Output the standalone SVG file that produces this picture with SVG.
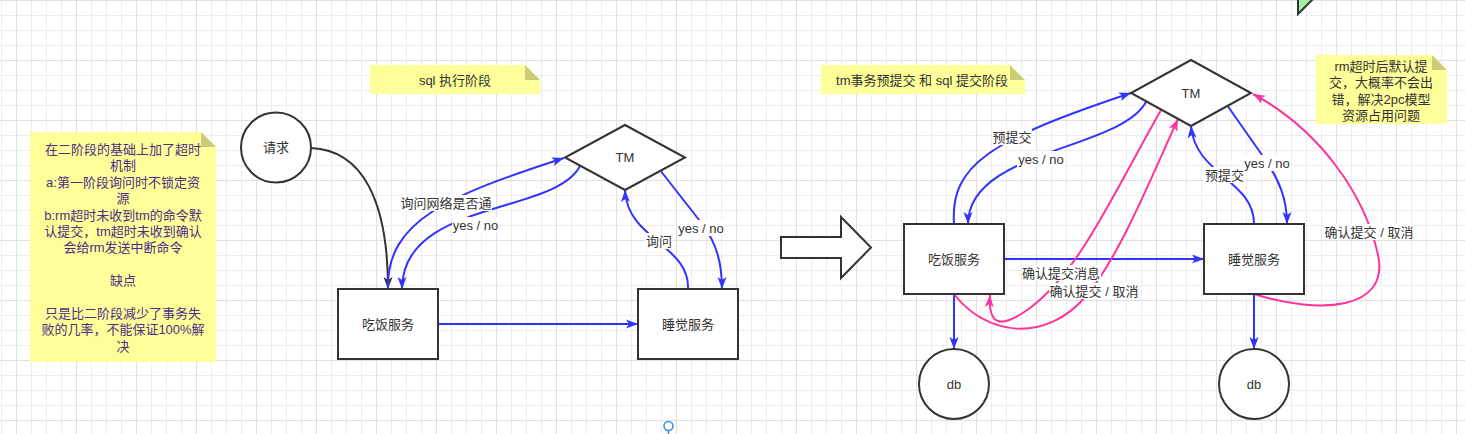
<svg xmlns="http://www.w3.org/2000/svg" width="1465" height="434" viewBox="0 0 1465 434">
<style>
text{font-family:"Liberation Sans","Noto Sans CJK SC",sans-serif;font-size:13px;fill:#333;text-anchor:middle;dominant-baseline:central}
.node{fill:#fff;stroke:#333;stroke-width:2}
.note{fill:#ffff99;stroke:none}
.fold{fill:#cccc77;stroke:none}
.b{fill:none;stroke:#3333ff;stroke-width:2;marker-end:url(#mb)}
.p{fill:none;stroke:#ff3399;stroke-width:2;marker-end:url(#mp)}
.k{fill:none;stroke:#333;stroke-width:2;marker-end:url(#mk)}
.lb{fill:#fff}
.purple{fill:#4d2d86}
</style>
<defs>
<pattern id="grid" patternUnits="userSpaceOnUse" x="16" y="0" width="60" height="60">
<path d="M15.5,0V60M30.5,0V60M45.5,0V60M0,15.5H60M0,30.5H60M0,45.5H60" stroke="#ededed" stroke-width="1"/>
<path d="M0.5,0V60M0,0.5H60" stroke="#e0e0e0" stroke-width="1"/>
</pattern>
<marker id="mb" viewBox="0 0 12 10" refX="12" refY="5" markerWidth="12" markerHeight="10" markerUnits="userSpaceOnUse" orient="auto"><path d="M0,0.5L12,5L0,9.5L3,5Z" fill="#3333ff"/></marker>
<marker id="mp" viewBox="0 0 12 10" refX="12" refY="5" markerWidth="12" markerHeight="10" markerUnits="userSpaceOnUse" orient="auto"><path d="M0,0.5L12,5L0,9.5L3,5Z" fill="#ff3399"/></marker>
<marker id="mk" viewBox="0 0 12 10" refX="12" refY="5" markerWidth="12" markerHeight="10" markerUnits="userSpaceOnUse" orient="auto"><path d="M0,0.5L12,5L0,9.5L3,5Z" fill="#333"/></marker>
</defs>
<rect width="1465" height="434" fill="#fff"/>
<rect width="1465" height="434" fill="url(#grid)"/>

<g id="note-left">
<path class="note" d="M30,132H201L216,147V362H30Z"/>
<path class="fold" d="M201,132L216,147H201Z"/>
<text class="purple" x="123" y="149.5">在二阶段的基础上加了超时</text>
<text class="purple" x="123" y="165.9">机制</text>
<text class="purple" x="123" y="182.3">a:第一阶段询问时不锁定资</text>
<text class="purple" x="123" y="198.7">源</text>
<text class="purple" x="123" y="215.1">b:rm超时未收到tm的命令默</text>
<text class="purple" x="123" y="231.5">认提交，tm超时未收到确认</text>
<text class="purple" x="123" y="247.9">会给rm发送中断命令</text>
<text class="purple" x="123" y="280.7">缺点</text>
<text class="purple" x="123" y="313.5">只是比二阶段减少了事务失</text>
<text class="purple" x="123" y="329.9">败的几率，不能保证100%解</text>
<text class="purple" x="123" y="346.3">决</text>
</g>

<g id="note-sql">
<path class="note" d="M370,65H525L540,80V94H370Z"/>
<path class="fold" d="M525,65L540,80H525Z"/>
<text x="455" y="80">sql 执行阶段</text>
</g>

<g id="note-tm">
<path class="note" d="M821,65H1010L1025,80V94H821Z"/>
<path class="fold" d="M1010,65L1025,80H1010Z"/>
<text x="922" y="80">tm事务预提交 和 sql 提交阶段</text>
</g>

<g id="note-rm">
<path class="note" d="M1316,55H1432L1447,70V124H1316Z"/>
<path class="fold" d="M1432,55L1447,70H1432Z"/>
<text x="1381" y="66">rm超时后默认提</text>
<text x="1381" y="82.5">交，大概率不会出</text>
<text x="1381" y="99">错，解决2pc模型</text>
<text x="1381" y="115.5">资源占用问题</text>
</g>

<g id="green-shape">
<polygon points="1298,-6 1298,14 1318,-6" fill="#a6eea6" stroke="#333" stroke-width="2"/>
</g>

<g id="pin">
<circle cx="668.5" cy="426" r="4.5" fill="none" stroke="#3d8fe6" stroke-width="1.6"/>
<path d="M668.5,430.5V434" stroke="#3d8fe6" stroke-width="1.6"/>
</g>

<g id="big-arrow">
<path d="M781,237H841V217L871,247.5L841,278V258H781Z" fill="#fff" stroke="#333" stroke-width="2"/>
</g>

<g id="connectors">
<path class="k" d="M311,148C362,150 388,200 388,289"/>
<path class="b" d="M388,289C386,220 450,195 564,158"/>
<path class="b" d="M580,166C555,215 402,200 402,289"/>
<path class="b" d="M438,324H638"/>
<path class="b" d="M688,289C690,245 627,240 625,190"/>
<path class="b" d="M660,170L703,225C716,243 722,262 722,289"/>

<path class="b" d="M954,224C950,165 990,140 1131,93"/>
<path class="b" d="M1146,102C1120,150 968,150 968,224"/>
<path class="b" d="M1004,259H1204"/>
<path class="b" d="M1254,224C1254,180 1195,175 1191,126"/>
<path class="b" d="M1227,105L1262,155C1280,180 1287,200 1287,224"/>
<path class="b" d="M954,294V349"/>
<path class="b" d="M1254,294V349"/>
<path class="p" d="M1161,110C1110,200 1080,270 1030,308C1000,330 988,325 990,295"/>
<path class="p" d="M954,294C985,335 1045,345 1087,295C1120,255 1150,180 1178,119"/>
<path class="p" d="M1254,294C1320,315 1390,310 1378,255C1365,195 1320,130 1253,94"/>

<g id="edge-labels">
<rect class="lb" x="400" y="195" width="92" height="16"/>
<text x="446" y="203">询问网络是否通</text>
<rect class="lb" x="452" y="217" width="47" height="16"/>
<text x="475.5" y="225">yes / no</text>
<rect class="lb" x="645" y="233" width="28" height="16"/>
<text x="659" y="241">询问</text>
<rect class="lb" x="677" y="220" width="48" height="16"/>
<text x="701" y="228">yes / no</text>

<rect class="lb" x="992" y="129" width="40" height="16"/>
<text x="1012" y="137">预提交</text>
<rect class="lb" x="1017" y="151" width="48" height="16"/>
<text x="1041" y="159">yes / no</text>
<rect class="lb" x="1204" y="167" width="41" height="16"/>
<text x="1224.5" y="175">预提交</text>
<rect class="lb" x="1243" y="155" width="48" height="16"/>
<text x="1267" y="163">yes / no</text>
<rect class="lb" x="1022" y="265" width="79" height="16"/>
<text x="1061" y="273">确认提交消息</text>
<rect class="lb" x="1049" y="283" width="91" height="16"/>
<text x="1094" y="291">确认提交 / 取消</text>
<rect class="lb" x="1324" y="224" width="91" height="16"/>
<text x="1369" y="232">确认提交 / 取消</text>
</g>
</g>

<g id="req">
<circle class="node" cx="276" cy="147.5" r="35"/>
<text x="276" y="147.5">请求</text>
</g>
<g id="tm-left">
<polygon class="node" points="625,125 685,157.5 625,190 565,157.5"/>
<text x="625" y="157.5">TM</text>
</g>
<g id="eat-left">
<rect class="node" x="338" y="289" width="100" height="70"/>
<text x="388" y="324">吃饭服务</text>
</g>
<g id="sleep-left">
<rect class="node" x="638" y="289" width="100" height="70"/>
<text x="688" y="324">睡觉服务</text>
</g>
<g id="tm-right">
<polygon class="node" points="1191,60 1251,93 1191,126 1131,93"/>
<text x="1191" y="93">TM</text>
</g>
<g id="eat-right">
<rect class="node" x="904" y="224" width="100" height="70"/>
<text x="954" y="259">吃饭服务</text>
</g>
<g id="sleep-right">
<rect class="node" x="1204" y="224" width="100" height="70"/>
<text x="1254" y="259">睡觉服务</text>
</g>
<g id="db-left">
<circle class="node" cx="954" cy="384" r="35"/>
<text x="954" y="384">db</text>
</g>
<g id="db-right">
<circle class="node" cx="1254" cy="384" r="35"/>
<text x="1254" y="384">db</text>
</g>
</svg>
